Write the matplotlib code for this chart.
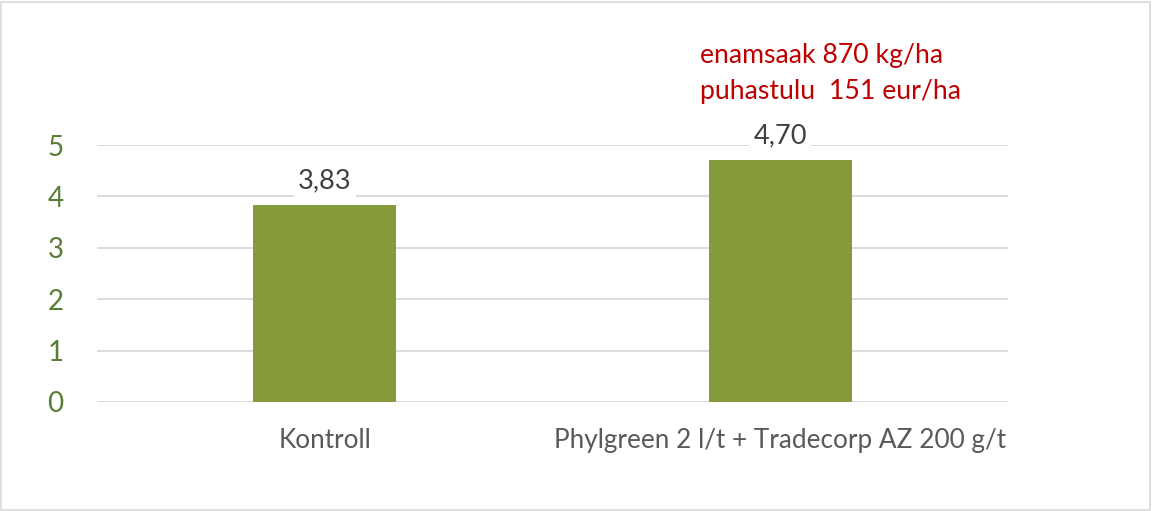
import matplotlib.pyplot as plt
from matplotlib.patches import Rectangle

# data
categories = ['Kontroll', 'Phylgreen 2 l/t + Tradecorp AZ 200 g/t']
values = [3.83, 4.70]
yticks = [0, 1, 2, 3, 4, 5]
note_lines = ['enamsaak 870 kg/ha', 'puhastulu  151 eur/ha']

plt.rcParams['font.family'] = ['Lato', 'DejaVu Sans']

fig = plt.figure(figsize=(11.52, 5.11), dpi=100)
ax = fig.add_axes([97 / 1152, 1 - 402 / 511, 911 / 1152, 257 / 511])

x = range(len(categories))
ax.bar(x, values, width=0.314, color='#859A3A', zorder=2)

ax.set_xlim(-0.5, len(categories) - 0.5)
ax.set_ylim(0, 5)
ax.set_yticks(yticks)
ax.set_yticklabels([str(t) for t in yticks], color='#5A7D36', fontsize=20)
ax.set_xticks(list(x))
ax.set_xticklabels(categories, color='#595959', fontsize=18.8)
ax.tick_params(axis='both', length=0)
ax.tick_params(axis='y', pad=24)
ax.tick_params(axis='x', pad=19)
ax.grid(axis='y', color='#D9D9D9', linewidth=1.3, zorder=0)
for s in ax.spines.values():
    s.set_visible(False)

# value labels
for xi, v in zip(x, values):
    ax.text(xi, v + 0.47, f'{v:.2f}'.replace('.', ','), ha='center', va='center',
            fontsize=19.5, color='#404040', zorder=3, clip_on=False,
            bbox=dict(facecolor='white', edgecolor='none', pad=3))

# red annotation
fig.text(700 / 1152, 1 - 56 / 511, note_lines[0], color='#C00000', fontsize=19.2, va='center')
fig.text(700 / 1152, 1 - 92 / 511, note_lines[1], color='#C00000', fontsize=19.2, va='center')

# figure border
fig.patches.append(Rectangle((0.001, 0.002), 0.997, 0.995, transform=fig.transFigure,
                             fill=False, edgecolor='#D9D9D9', linewidth=1.2))

fig.savefig('out.png', dpi=100)
